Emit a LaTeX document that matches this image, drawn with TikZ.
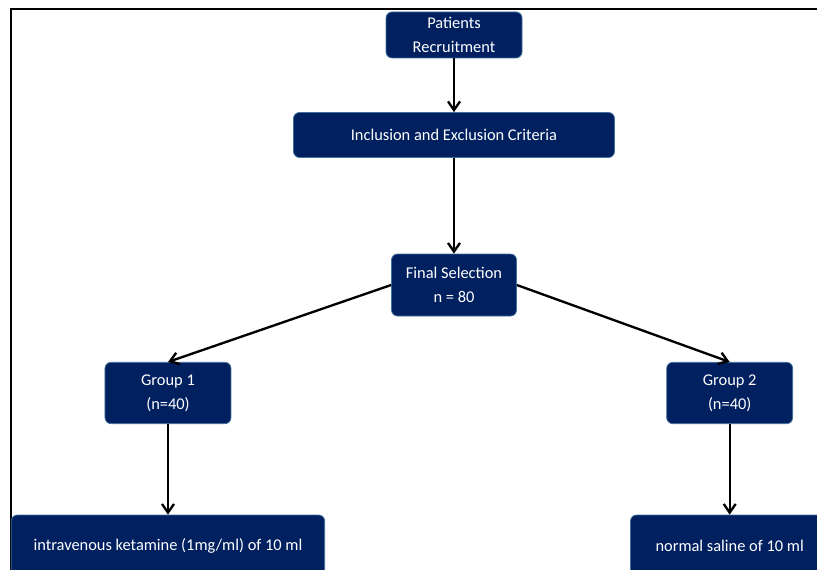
\documentclass[tikz,border=0pt]{standalone}
\usepackage{fontspec}
\setmainfont{Carlito}
\usepackage{tikz}
\usetikzlibrary{arrows.meta}
\definecolor{navy}{RGB}{0,32,96}
\definecolor{edgeblu}{RGB}{65,113,156}
\tikzstyle{box} = [rectangle, rounded corners=0.18cm, inner sep=2pt, text centered, align=center, draw=edgeblu, line width=0.6pt, fill=navy, text=white, font=\fontsize{14}{20.5}\selectfont]
\tikzstyle{small} = [box, minimum width=3.78cm, minimum height=1.84cm]
\tikzstyle{wide} = [box, minimum width=9.4cm, minimum height=1.86cm]
\tikzstyle{arrow} = [line width=2pt,->,>={Straight Barb[length=2.6mm,width=3.6mm]}]

\begin{document}
\begin{tikzpicture}[x=0.03cm, y=0.03cm, node distance=3cm]
  \clip (0,0) rectangle (817,570);
  % frame of the figure
  \draw [line width=1.7pt] (11,0) -- (11,560.5) -- (817,560.5);

  \node (rec) [box, minimum width=4.08cm, minimum height=1.38cm] at (454,535) {Patients\\Recruitment};
  \node (incl) [box, below of=rec, minimum width=9.63cm, minimum height=1.35cm] {Inclusion and Exclusion Criteria};
  \node (fin) [small, below of=incl, yshift=-1.5cm, minimum width=3.75cm, minimum height=1.86cm] {Final Selection\\n = 80};
  \node (g1) [small, below of=fin, xshift=-8.58cm, yshift=-0.24cm] {Group 1\\(n=40)};
  \node (g2) [small, below of=fin, xshift=8.27cm, yshift=-0.24cm] {Group 2\\(n=40)};
  \node (iv) [wide, below of=g1, yshift=-1.59cm] {intravenous ketamine (1mg/ml) of 10 ml};
  \node (ns) [wide, below of=g2, yshift=-1.59cm, minimum width=5.95cm] {normal saline of 10 ml};

  \draw [arrow] (rec) -- (incl);
  \draw [arrow] (incl) -- (fin);
  \draw [arrow] (fin.west) -- (g1.north);
  \draw [arrow] (fin.east) -- (g2.north);
  \draw [arrow] (g1) -- (iv);
  \draw [arrow] (g2) -- (ns);
\end{tikzpicture}
\end{document}
